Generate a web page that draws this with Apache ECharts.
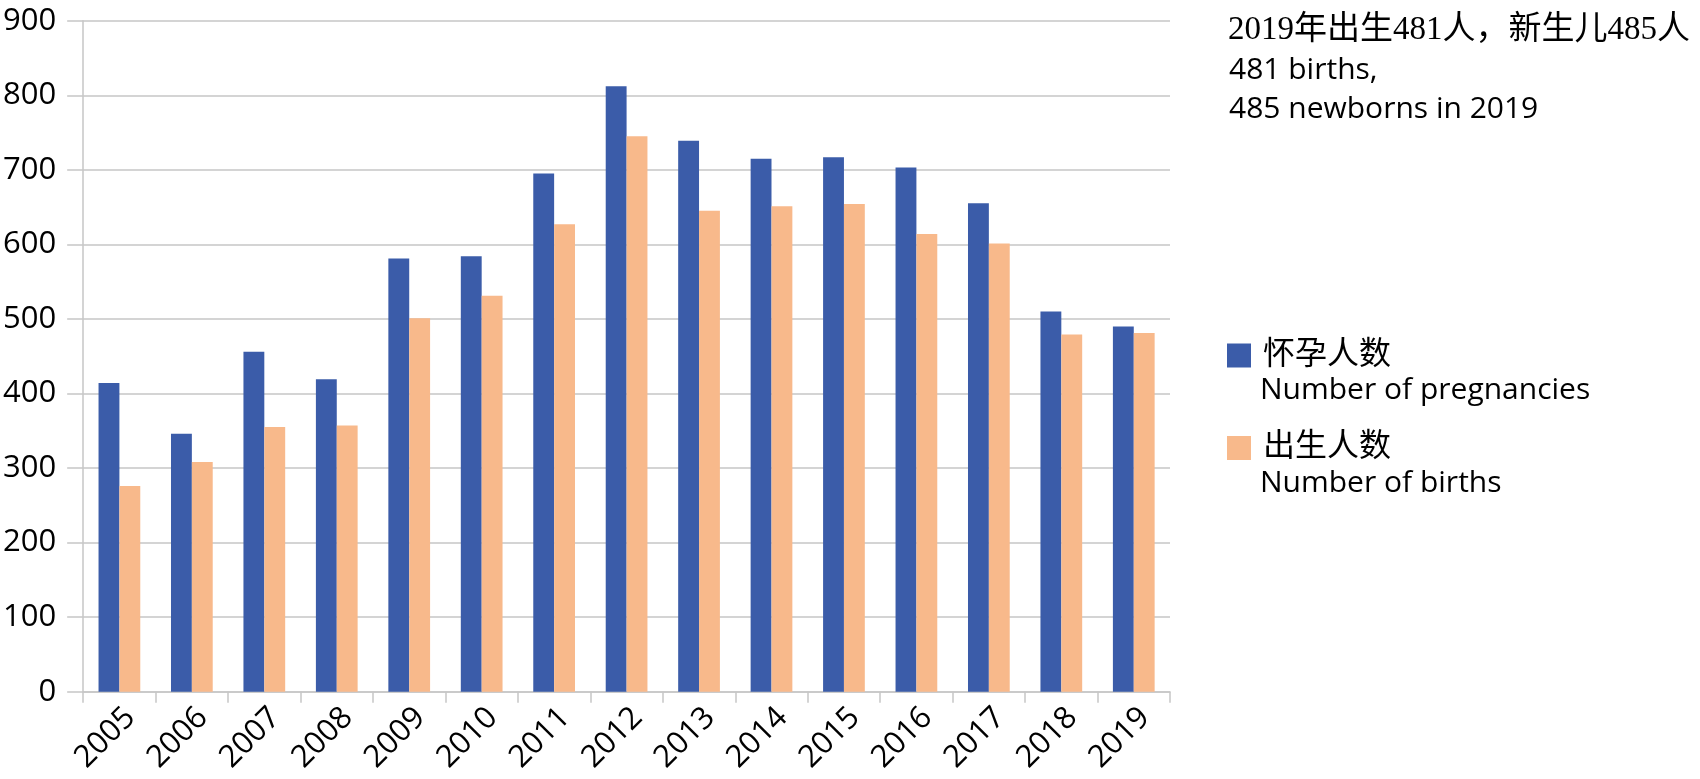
<!DOCTYPE html>
<html>
<head>
<meta charset="utf-8">
<script src="https://cdn.jsdelivr.net/npm/echarts@6/dist/echarts.min.js"></script>
<style>
html,body{margin:0;padding:0;background:#fff;}
#chart{width:1700px;height:779px;}
</style>
</head>
<body>
<div id="chart"></div>
<script>
const years = ['2005','2006','2007','2008','2009','2010','2011','2012','2013','2014','2015','2016','2017','2018','2019'];
const pregnancies = [414, 346, 456, 419, 581, 584, 695, 812, 739, 715, 717, 703, 655, 510, 490];
const births = [276, 308, 355, 357, 501, 531, 627, 745, 645, 651, 654, 614, 601, 479, 481];
const seriesNames = ['怀孕人数', '出生人数'];
const seriesNamesEn = ['Number of pregnancies', 'Number of births'];
const noteLines = ['2019年出生481人，新生儿485人', '481 births,', '485 newborns in 2019'];

const chart = echarts.init(document.getElementById('chart'), null, {renderer: 'canvas'});
const latin = "'Open Sans', 'Noto Sans', sans-serif";
const cjk = "'Liberation Serif', 'Noto Sans CJK SC', serif";
const gridColor = '#c6c6c6';

chart.setOption({
  animation: false,
  backgroundColor: '#ffffff',
  grid: {left: 77, right: 530, top: 20.7, bottom: 87.3, containLabel: false},
  xAxis: {
    type: 'category',
    data: years,
    boundaryGap: true,
    axisLine: {show: true, lineStyle: {color: gridColor, width: 1.5}},
    axisTick: {show: true, length: 11, lineStyle: {color: gridColor, width: 1.5}},
    axisLabel: {rotate: 45, margin: 10, fontSize: 31, fontFamily: latin, color: '#000', interval: 0,
                verticalAlign: 'top'}
  },
  yAxis: {
    type: 'value',
    min: 0, max: 900, interval: 100,
    axisLine: {show: true, lineStyle: {color: gridColor, width: 1.5}},
    axisTick: {show: true, inside: false, length: 16, lineStyle: {color: gridColor, width: 1.5}},
    splitLine: {show: true, lineStyle: {color: gridColor, width: 1.5}},
    axisLabel: {margin: 27, fontSize: 31, fontFamily: latin, color: '#000'}
  },
  legend: {
    orient: 'vertical',
    left: 1222, top: 333.5,
    itemWidth: 24, itemHeight: 24, itemGap: 58.5,
    icon: 'rect',
    data: seriesNames,
    textStyle: {fontSize: 32, lineHeight: 34, fontFamily: cjk, color: '#000', padding: [0, 0, 0, 7]},
    selectedMode: false
  },
  series: [
    {name: seriesNames[0], type: 'bar', data: pregnancies, barGap: '0%', barCategoryGap: '42.4%',
     itemStyle: {color: '#3b5ca9'}},
    {name: seriesNames[1], type: 'bar', data: births, barGap: '0%', barCategoryGap: '42.4%',
     itemStyle: {color: '#f8b98b'}}
  ],
  graphic: [
    {type: 'text', left: 1228, top: 14, style: {text: noteLines[0], font: "33px " + cjk, fill: '#000'}},
    {type: 'text', x: 1229, y: 70, style: {text: noteLines[1], font: "30px " + latin, fill: '#000', verticalAlign: 'middle'}},
    {type: 'text', x: 1229, y: 109.5, style: {text: noteLines[2], font: "30px " + latin, fill: '#000', verticalAlign: 'middle'}},
    {type: 'text', x: 1260, y: 390, style: {text: seriesNamesEn[0], font: "30px " + latin, fill: '#000', verticalAlign: 'middle'}},
    {type: 'text', x: 1260, y: 483, style: {text: seriesNamesEn[1], font: "30px " + latin, fill: '#000', verticalAlign: 'middle'}}
  ]
});
</script>
</body>
</html>
